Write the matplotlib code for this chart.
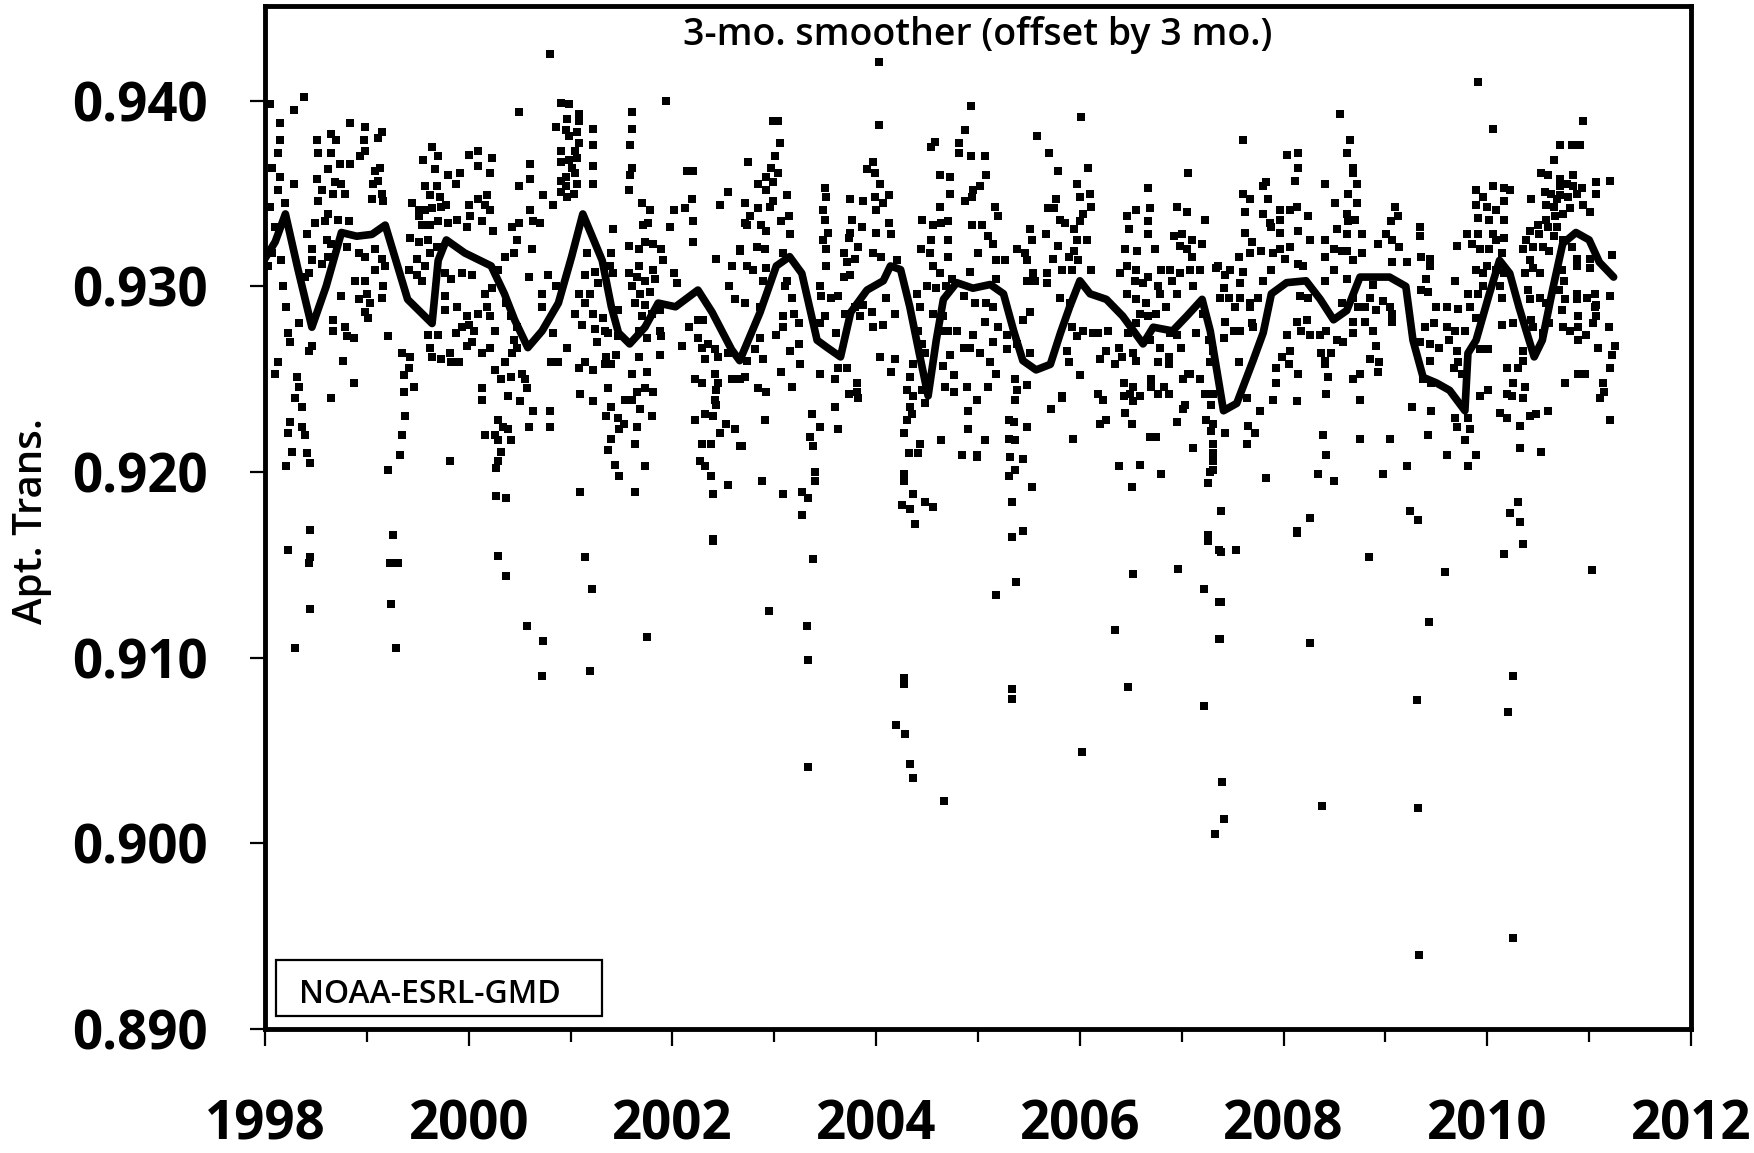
import matplotlib

matplotlib.use("Agg")
import matplotlib.pyplot as plt
from matplotlib.patches import Rectangle
from matplotlib.ticker import FormatStrFormatter, MultipleLocator

plt.rcParams["font.family"] = ["Open Sans", "DejaVu Sans"]

# daily apparent transmission readings (decimal year, value)
DAILY_1998_2002 = [
    (1998.05, 0.9398), (1998.15, 0.9388), (1998.15, 0.9379), (1998.13, 0.9372), (1998.07, 0.9364),
    (1998.15, 0.9359), (1998.20, 0.9345), (1998.13, 0.9352), (1998.05, 0.9343), (1998.10, 0.9332),
    (1998.07, 0.9318), (1998.16, 0.9314), (1998.03, 0.9311), (1998.18, 0.9300), (1998.21, 0.9289),
    (1998.23, 0.9275), (1998.25, 0.9270), (1998.13, 0.9259), (1998.10, 0.9253), (1998.33, 0.9280),
    (1998.31, 0.9251), (1998.33, 0.9246), (1998.29, 0.9240), (1998.36, 0.9235), (1998.25, 0.9227),
    (1998.36, 0.9224), (1998.23, 0.9221), (1998.39, 0.9220), (1998.26, 0.9211), (1998.41, 0.9210),
    (1998.21, 0.9203), (1998.44, 0.9205), (1998.43, 0.9265), (1998.46, 0.9268), (1998.38, 0.9402),
    (1998.28, 0.9395), (1998.28, 0.9355), (1998.41, 0.9328), (1998.46, 0.9320), (1998.43, 0.9307),
    (1998.39, 0.9305), (1998.49, 0.9334), (1998.51, 0.9379), (1998.52, 0.9372), (1998.65, 0.9372),
    (1998.51, 0.9358), (1998.52, 0.9346), (1998.65, 0.9382), (1998.70, 0.9379), (1998.83, 0.9388),
    (1998.98, 0.9386), (1999.15, 0.9383), (1999.11, 0.9380), (1998.97, 0.9379), (1998.98, 0.9373),
    (1998.93, 0.9370), (1998.83, 0.9366), (1998.74, 0.9366), (1998.62, 0.9363), (1998.69, 0.9356),
    (1998.75, 0.9355), (1998.79, 0.9350), (1998.67, 0.9350), (1998.56, 0.9352), (1998.62, 0.9339),
    (1998.59, 0.9335), (1998.72, 0.9336), (1998.82, 0.9335), (1998.61, 0.9325), (1998.65, 0.9323),
    (1998.80, 0.9321), (1998.62, 0.9316), (1998.56, 0.9312), (1998.46, 0.9314), (1998.92, 0.9318),
    (1998.98, 0.9316), (1999.08, 0.9320), (1999.15, 0.9315), (1999.08, 0.9309), (1999.18, 0.9311),
    (1998.88, 0.9303), (1998.98, 0.9303), (1999.00, 0.9296), (1998.92, 0.9293), (1999.03, 0.9291),
    (1998.98, 0.9286), (1999.01, 0.9283), (1999.16, 0.9300), (1999.15, 0.9294), (1998.75, 0.9295),
    (1998.67, 0.9282), (1998.67, 0.9276), (1998.79, 0.9278), (1998.80, 0.9273), (1998.87, 0.9272),
    (1998.77, 0.9260), (1999.21, 0.9273), (1999.06, 0.9355), (1999.05, 0.9347), (1999.15, 0.9350),
    (1999.16, 0.9346), (1999.08, 0.9362), (1999.13, 0.9364), (1999.11, 0.9357), (1999.34, 0.9264),
    (1999.41, 0.9256), (1999.36, 0.9252), (1999.42, 0.9262), (1999.46, 0.9246), (1999.36, 0.9243),
    (1999.37, 0.9230), (1999.34, 0.9220), (1999.33, 0.9209), (1999.21, 0.9201), (1998.65, 0.9240),
    (1998.87, 0.9248), (1999.64, 0.9375), (1999.70, 0.9370), (1999.55, 0.9368), (1999.67, 0.9363),
    (1999.80, 0.9360), (1999.91, 0.9361), (1999.87, 0.9355), (1999.57, 0.9354), (1999.69, 0.9354),
    (1999.62, 0.9349), (1999.72, 0.9348), (1999.44, 0.9345), (1999.51, 0.9341), (1999.57, 0.9341),
    (1999.64, 0.9342), (1999.73, 0.9343), (1999.78, 0.9344), (1999.51, 0.9338), (1999.54, 0.9333),
    (1999.62, 0.9333), (1999.70, 0.9335), (1999.80, 0.9334), (1999.88, 0.9336), (2000.00, 0.9371),
    (2000.09, 0.9373), (2000.09, 0.9365), (2000.23, 0.9369), (2000.21, 0.9361), (2000.00, 0.9344),
    (2000.01, 0.9338), (2000.09, 0.9347), (2000.18, 0.9349), (2000.16, 0.9344), (2000.21, 0.9341),
    (1999.98, 0.9332), (2000.13, 0.9335), (2000.24, 0.9330), (1999.42, 0.9326), (1999.51, 0.9324),
    (1999.60, 0.9325), (1999.62, 0.9318), (1999.69, 0.9321), (1999.49, 0.9315), (1999.57, 0.9311),
    (1999.41, 0.9309), (1999.49, 0.9306), (1999.54, 0.9303), (1999.77, 0.9307), (1999.83, 0.9304),
    (1999.93, 0.9307), (2000.03, 0.9306), (1999.77, 0.9295), (1999.88, 0.9289), (1999.98, 0.9284),
    (2000.09, 0.9285), (2000.18, 0.9289), (2000.21, 0.9284), (2000.00, 0.9279), (1999.93, 0.9278),
    (2000.05, 0.9276), (1999.87, 0.9275), (1999.77, 0.9287), (1999.60, 0.9274), (1999.70, 0.9274),
    (1999.62, 0.9267), (1999.64, 0.9262), (1999.73, 0.9261), (1999.82, 0.9264), (1999.83, 0.9259),
    (1999.90, 0.9259), (1999.98, 0.9268), (2000.03, 0.9270), (2000.13, 0.9264), (2000.21, 0.9267),
    (2000.26, 0.9276), (2000.16, 0.9296), (2000.23, 0.9299), (2000.29, 0.9309), (2000.36, 0.9316),
    (2000.44, 0.9318), (2000.47, 0.9325), (2000.42, 0.9332), (2000.49, 0.9334), (2000.60, 0.9341),
    (2000.63, 0.9335), (2000.70, 0.9334), (2000.60, 0.9358), (2000.60, 0.9366), (2000.49, 0.9354),
    (2000.49, 0.9394), (2000.80, 0.9425), (2000.73, 0.9349), (2000.83, 0.9344), (2000.62, 0.9320),
    (2000.59, 0.9305), (2000.78, 0.9306), (2000.72, 0.9296), (2000.72, 0.9289), (2000.37, 0.9291),
    (2000.41, 0.9284), (2000.47, 0.9278), (2000.44, 0.9271), (2000.47, 0.9267), (2000.42, 0.9264),
    (2000.36, 0.9259), (2000.26, 0.9255), (2000.32, 0.9250), (2000.41, 0.9251), (2000.13, 0.9245),
    (2000.13, 0.9239), (2000.39, 0.9241), (2000.50, 0.9238), (2000.29, 0.9228), (2000.34, 0.9224),
    (2000.39, 0.9223), (2000.16, 0.9220), (2000.26, 0.9220), (2000.29, 0.9217), (2000.41, 0.9217),
    (2000.32, 0.9211), (2000.29, 0.9206), (2000.27, 0.9202), (2000.27, 0.9187), (2000.37, 0.9186),
    (1999.82, 0.9206), (2000.52, 0.9253), (2000.55, 0.9250), (2000.57, 0.9245), (2000.63, 0.9233),
    (2000.59, 0.9224), (2000.80, 0.9233), (2000.80, 0.9224), (2000.81, 0.9259), (2000.88, 0.9259),
    (2000.96, 0.9267), (2000.83, 0.9275), (2000.86, 0.9300), (2000.91, 0.9399), (2000.98, 0.9398),
    (2001.08, 0.9393), (2000.96, 0.9390), (2001.08, 0.9389), (2000.86, 0.9386), (2000.95, 0.9384),
    (2001.06, 0.9383), (2000.98, 0.9381), (2001.22, 0.9385), (2001.22, 0.9376), (2001.08, 0.9377),
    (2000.91, 0.9373), (2001.04, 0.9373), (2000.91, 0.9367), (2000.98, 0.9368), (2001.06, 0.9369),
    (2001.01, 0.9364), (2001.22, 0.9365), (2000.95, 0.9359), (2001.04, 0.9361), (2000.91, 0.9357),
    (2001.06, 0.9355), (2000.95, 0.9354), (2001.22, 0.9355), (2000.91, 0.9351), (2001.03, 0.9350),
    (2000.96, 0.9348), (2001.16, 0.9318), (2001.24, 0.9308), (2001.14, 0.9306), (2001.27, 0.9302),
    (2001.08, 0.9296), (2001.19, 0.9296), (2001.14, 0.9291), (2001.22, 0.9285), (2001.04, 0.9285),
    (2001.11, 0.9279), (2001.24, 0.9277), (2001.32, 0.9283), (2001.34, 0.9276), (2001.26, 0.9270),
    (2001.40, 0.9318), (2001.39, 0.9311), (2001.42, 0.9307), (2001.42, 0.9331), (2001.47, 0.9287),
    (2001.37, 0.9275), (2001.47, 0.9273), (2001.08, 0.9256), (2001.14, 0.9259), (2001.22, 0.9255),
    (2001.34, 0.9258), (2001.40, 0.9258), (2001.45, 0.9263), (2001.35, 0.9262), (2001.09, 0.9242),
    (2001.22, 0.9238), (2001.37, 0.9245), (2001.40, 0.9235), (2001.35, 0.9230), (2001.47, 0.9229),
    (2001.53, 0.9239), (2001.52, 0.9226), (2001.48, 0.9223), (2001.37, 0.9212), (2001.44, 0.9204),
    (2001.48, 0.9198), (2001.63, 0.9189), (2001.09, 0.9189), (2001.40, 0.9218), (2001.63, 0.9215),
    (2001.65, 0.9224), (2001.73, 0.9203), (2001.60, 0.9239), (2001.68, 0.9234), (2001.80, 0.9230),
    (2001.81, 0.9243), (2001.73, 0.9245), (2001.65, 0.9243), (2001.60, 0.9253), (2001.75, 0.9254),
    (2001.67, 0.9262), (2001.88, 0.9263), (2001.60, 0.9394), (2001.60, 0.9385), (2001.58, 0.9376),
    (2001.60, 0.9364), (2001.58, 0.9360), (2001.57, 0.9352), (2001.94, 0.9400), (2002.14, 0.9362),
    (2002.20, 0.9362), (2001.70, 0.9345), (2001.78, 0.9341), (2001.71, 0.9333), (2001.76, 0.9334),
    (2001.57, 0.9322), (2001.67, 0.9320), (2001.73, 0.9324), (2001.81, 0.9323), (2001.89, 0.9320),
    (2001.91, 0.9314), (2001.81, 0.9309), (2001.67, 0.9311), (2001.57, 0.9307), (2001.65, 0.9305),
    (2001.73, 0.9303), (2001.83, 0.9304), (2001.60, 0.9300), (2001.68, 0.9296), (2001.78, 0.9297),
    (2001.63, 0.9291), (2001.73, 0.9290), (2001.88, 0.9287), (2001.80, 0.9285), (2001.70, 0.9284),
    (2001.67, 0.9276), (2001.75, 0.9272), (2001.88, 0.9276), (2001.89, 0.9273), (2002.02, 0.9341),
    (2001.98, 0.9332), (2002.12, 0.9342), (2002.19, 0.9347), (2002.20, 0.9335), (2002.20, 0.9324),
    (2002.02, 0.9307), (2002.04, 0.9302), (2002.16, 0.9278), (2002.09, 0.9268), (2002.25, 0.9272),
    (2002.29, 0.9267), (2002.30, 0.9282), (2002.25, 0.9282), (2002.35, 0.9269), (2002.42, 0.9266),
    (2002.45, 0.9262), (2002.32, 0.9261), (2002.55, 0.9264), (2002.22, 0.9250), (2002.29, 0.9248),
    (2002.42, 0.9253), (2002.45, 0.9248), (2002.58, 0.9250), (2002.66, 0.9250), (2002.43, 0.9244),
    (2002.42, 0.9239), (2002.43, 0.9236), (2002.22, 0.9228), (2002.32, 0.9231), (2002.40, 0.9230),
    (2002.53, 0.9226), (2002.47, 0.9221), (2002.61, 0.9223), (2002.68, 0.9214), (2002.38, 0.9215),
    (2002.29, 0.9215), (2002.27, 0.9206), (2002.32, 0.9203), (2002.38, 0.9198), (2002.55, 0.9193),
    (2002.40, 0.9188), (2002.40, 0.9164), (2002.43, 0.9315), (2002.58, 0.9311), (2002.56, 0.9300),
    (2002.61, 0.9293), (2002.66, 0.9319), (2002.55, 0.9351), (2002.47, 0.9344), (2002.71, 0.9334),
]

DAILY_2002_2007 = [
    (2004.03, 0.9421), (2004.93, 0.9397), (2006.01, 0.9391), (2002.99, 0.9389), (2003.04, 0.9389),
    (2003.06, 0.9377), (2004.03, 0.9387), (2004.87, 0.9384), (2004.81, 0.9377), (2004.58, 0.9378),
    (2004.54, 0.9375), (2004.81, 0.9372), (2004.93, 0.9370), (2005.07, 0.9370), (2005.58, 0.9381),
    (2005.70, 0.9372), (2002.74, 0.9367), (2003.01, 0.9370), (2002.97, 0.9364), (2003.04, 0.9361),
    (2002.92, 0.9359), (2002.99, 0.9356), (2002.84, 0.9355), (2002.92, 0.9352), (2003.12, 0.9349),
    (2002.99, 0.9346), (2002.71, 0.9345), (2002.84, 0.9342), (2002.96, 0.9343), (2003.14, 0.9338),
    (2002.76, 0.9338), (2002.73, 0.9333), (2002.87, 0.9333), (2003.07, 0.9335), (2002.92, 0.9330),
    (2003.15, 0.9328), (2002.66, 0.9320), (2002.83, 0.9321), (2002.91, 0.9320), (2003.09, 0.9318),
    (2002.73, 0.9311), (2002.79, 0.9309), (2002.92, 0.9310), (2002.89, 0.9303), (2003.12, 0.9303),
    (2003.17, 0.9294), (2003.10, 0.9300), (2002.71, 0.9291), (2002.86, 0.9289), (2003.09, 0.9284),
    (2003.19, 0.9285), (2003.24, 0.9280), (2003.02, 0.9274), (2003.09, 0.9278), (2002.86, 0.9272),
    (2003.24, 0.9269), (2003.15, 0.9265), (2002.81, 0.9266), (2002.89, 0.9261), (2002.73, 0.9260),
    (2003.25, 0.9258), (2003.07, 0.9254), (2002.71, 0.9251), (2003.17, 0.9246), (2002.84, 0.9245),
    (2002.92, 0.9243), (2002.91, 0.9228), (2003.37, 0.9231), (2003.45, 0.9224), (2003.35, 0.9219),
    (2003.38, 0.9214), (2003.40, 0.9200), (2003.40, 0.9195), (2003.27, 0.9189), (2003.33, 0.9186),
    (2003.09, 0.9188), (2002.88, 0.9195), (2003.27, 0.9177), (2002.66, 0.9214), (2003.50, 0.9353),
    (2003.51, 0.9348), (2003.48, 0.9341), (2003.50, 0.9336), (2003.53, 0.9329), (2003.48, 0.9325),
    (2003.51, 0.9320), (2003.74, 0.9347), (2003.76, 0.9336), (2003.74, 0.9329), (2003.91, 0.9363),
    (2003.99, 0.9361), (2003.97, 0.9367), (2004.04, 0.9355), (2003.99, 0.9348), (2004.07, 0.9345),
    (2004.13, 0.9349), (2003.87, 0.9346), (2004.00, 0.9341), (2004.13, 0.9334), (2003.86, 0.9332),
    (2004.00, 0.9329), (2004.15, 0.9328), (2003.73, 0.9326), (2003.82, 0.9321), (2003.68, 0.9318),
    (2003.71, 0.9313), (2003.79, 0.9315), (2003.97, 0.9318), (2004.05, 0.9316), (2004.20, 0.9314),
    (2003.51, 0.9311), (2003.45, 0.9300), (2003.46, 0.9295), (2003.56, 0.9294), (2003.63, 0.9295),
    (2003.68, 0.9305), (2003.74, 0.9306), (2003.69, 0.9285), (2003.79, 0.9289), (2003.87, 0.9290),
    (2003.96, 0.9286), (2003.84, 0.9284), (2003.97, 0.9278), (2004.07, 0.9279), (2004.10, 0.9294),
    (2004.18, 0.9285), (2003.50, 0.9284), (2003.45, 0.9280), (2003.61, 0.9275), (2004.04, 0.9262),
    (2004.18, 0.9261), (2004.15, 0.9254), (2003.63, 0.9256), (2003.71, 0.9256), (2003.45, 0.9253),
    (2003.60, 0.9250), (2003.81, 0.9248), (2003.81, 0.9243), (2003.73, 0.9242), (2003.82, 0.9240),
    (2003.60, 0.9235), (2003.63, 0.9223), (2004.33, 0.9251), (2004.30, 0.9244), (2004.36, 0.9241),
    (2004.33, 0.9235), (2004.35, 0.9231), (2004.30, 0.9228), (2004.27, 0.9221), (2004.43, 0.9215),
    (2004.32, 0.9210), (2004.41, 0.9210), (2004.27, 0.9199), (2004.27, 0.9195), (2004.36, 0.9188),
    (2004.25, 0.9182), (2004.33, 0.9180), (2004.48, 0.9184), (2004.56, 0.9181), (2004.38, 0.9172),
    (2004.45, 0.9244), (2004.48, 0.9237), (2004.36, 0.9258), (2004.48, 0.9264), (2004.45, 0.9269),
    (2004.41, 0.9276), (2004.43, 0.9289), (2004.40, 0.9296), (2004.44, 0.9320), (2004.45, 0.9336),
    (2004.56, 0.9333), (2004.54, 0.9325), (2004.53, 0.9318), (2004.56, 0.9311), (2004.63, 0.9343),
    (2004.64, 0.9334), (2004.71, 0.9335), (2004.71, 0.9325), (2004.63, 0.9360), (2004.72, 0.9359),
    (2004.72, 0.9350), (2004.71, 0.9316), (2004.63, 0.9307), (2004.74, 0.9304), (2004.69, 0.9300),
    (2004.59, 0.9299), (2004.50, 0.9300), (2004.56, 0.9285), (2004.66, 0.9284), (2004.71, 0.9276),
    (2004.63, 0.9276), (2004.72, 0.9263), (2004.66, 0.9257), (2004.76, 0.9252), (2004.68, 0.9246),
    (2004.76, 0.9243), (2004.86, 0.9267), (2004.95, 0.9274), (2004.79, 0.9276), (2004.92, 0.9267),
    (2005.02, 0.9264), (2005.12, 0.9259), (2004.89, 0.9246), (2004.99, 0.9239), (2005.10, 0.9246),
    (2005.18, 0.9253), (2004.90, 0.9233), (2004.90, 0.9223), (2005.07, 0.9217), (2004.64, 0.9217),
    (2004.84, 0.9209), (2004.99, 0.9209), (2004.99, 0.9208), (2004.95, 0.9352), (2005.02, 0.9354),
    (2004.94, 0.9348), (2005.08, 0.9360), (2004.87, 0.9346), (2005.17, 0.9343), (2005.20, 0.9338),
    (2004.94, 0.9333), (2005.04, 0.9333), (2005.10, 0.9327), (2005.15, 0.9323), (2005.00, 0.9318),
    (2004.92, 0.9308), (2005.18, 0.9314), (2005.26, 0.9314), (2005.18, 0.9304), (2004.86, 0.9295),
    (2004.97, 0.9291), (2005.08, 0.9291), (2005.15, 0.9289), (2005.07, 0.9281), (2005.20, 0.9278),
    (2005.15, 0.9270), (2005.28, 0.9274), (2005.28, 0.9266), (2005.38, 0.9269), (2005.36, 0.9250),
    (2005.38, 0.9244), (2005.36, 0.9239), (2005.48, 0.9247), (2005.51, 0.9264), (2005.30, 0.9228),
    (2005.35, 0.9227), (2005.30, 0.9218), (2005.36, 0.9217), (2005.31, 0.9208), (2005.44, 0.9207),
    (2005.36, 0.9201), (2005.30, 0.9198), (2005.53, 0.9192), (2005.33, 0.9184), (2005.48, 0.9224),
    (2005.72, 0.9234), (2005.82, 0.9240), (2005.93, 0.9218), (2005.44, 0.9282), (2005.51, 0.9286),
    (2005.38, 0.9320), (2005.46, 0.9318), (2005.53, 0.9325), (2005.51, 0.9331), (2005.48, 0.9314),
    (2005.54, 0.9307), (2005.48, 0.9303), (2005.56, 0.9303), (2005.67, 0.9328), (2005.69, 0.9342),
    (2005.77, 0.9347), (2005.80, 0.9336), (2005.75, 0.9342), (2005.85, 0.9334), (2005.79, 0.9322),
    (2005.74, 0.9315), (2005.89, 0.9316), (2005.82, 0.9309), (2005.68, 0.9307), (2005.68, 0.9302),
    (2005.79, 0.9362), (2005.97, 0.9355), (2006.00, 0.9348), (2006.10, 0.9350), (2006.08, 0.9364),
    (2006.11, 0.9343), (2006.03, 0.9339), (2006.00, 0.9335), (2005.94, 0.9331), (2006.07, 0.9325),
    (2005.97, 0.9325), (2005.94, 0.9319), (2005.98, 0.9314), (2005.92, 0.9309), (2006.11, 0.9309),
    (2005.80, 0.9294), (2005.90, 0.9291), (2005.92, 0.9278), (2005.97, 0.9273), (2006.03, 0.9276),
    (2006.13, 0.9275), (2006.18, 0.9275), (2006.28, 0.9276), (2005.87, 0.9265), (2005.89, 0.9259),
    (2006.00, 0.9252), (2005.82, 0.9241), (2006.26, 0.9265), (2006.20, 0.9261), (2006.18, 0.9242),
    (2006.23, 0.9239), (2006.20, 0.9226), (2006.26, 0.9228), (2006.38, 0.9203), (2006.59, 0.9204),
    (2006.51, 0.9192), (2006.43, 0.9248), (2006.52, 0.9246), (2006.59, 0.9241), (2006.49, 0.9242),
    (2006.43, 0.9241), (2006.52, 0.9238), (2006.44, 0.9232), (2006.51, 0.9226), (2006.70, 0.9250),
    (2006.70, 0.9246), (2006.77, 0.9242), (2006.87, 0.9242), (2006.83, 0.9246), (2006.69, 0.9219),
    (2006.75, 0.9219), (2006.80, 0.9199), (2006.95, 0.9227), (2007.01, 0.9234), (2007.03, 0.9236),
    (2007.11, 0.9213), (2007.24, 0.9228), (2007.23, 0.9242), (2007.31, 0.9242), (2007.29, 0.9236),
    (2007.29, 0.9222), (2007.31, 0.9215), (2007.31, 0.9206), (2007.28, 0.9200), (2007.26, 0.9194),
    (2007.06, 0.9253), (2007.18, 0.9250), (2007.01, 0.9250), (2006.99, 0.9267), (2006.95, 0.9274),
    (2006.88, 0.9275), (2006.87, 0.9258), (2006.77, 0.9259), (2006.87, 0.9262), (2006.79, 0.9267),
    (2006.69, 0.9271), (2006.52, 0.9264), (2006.55, 0.9260), (2006.38, 0.9267), (2006.41, 0.9262),
    (2006.34, 0.9258), (2006.47, 0.9275), (2006.55, 0.9280), (2006.59, 0.9285), (2006.67, 0.9284),
    (2006.75, 0.9285), (2006.85, 0.9289), (2006.95, 0.9296), (2006.79, 0.9296), (2006.65, 0.9291),
    (2006.55, 0.9293), (2006.46, 0.9296), (2006.77, 0.9300), (2006.39, 0.9307), (2006.54, 0.9303),
    (2006.62, 0.9302), (2006.67, 0.9305), (2006.90, 0.9303), (2006.98, 0.9307), (2007.08, 0.9309),
    (2007.18, 0.9309), (2007.11, 0.9300), (2006.88, 0.9309), (2006.55, 0.9309), (2006.46, 0.9311),
    (2006.80, 0.9309), (2006.44, 0.9320), (2006.56, 0.9319), (2006.74, 0.9320), (2006.67, 0.9328),
    (2006.48, 0.9331), (2006.67, 0.9335), (2006.46, 0.9338), (2006.55, 0.9341), (2006.69, 0.9342),
    (2006.67, 0.9353), (2006.95, 0.9343), (2007.05, 0.9340), (2007.06, 0.9361), (2006.92, 0.9327),
    (2007.00, 0.9328), (2006.98, 0.9322), (2007.05, 0.9320), (2007.10, 0.9325), (2007.20, 0.9323),
    (2007.10, 0.9316), (2007.23, 0.9336), (2007.34, 0.9310), (2007.21, 0.9285), (2007.14, 0.9275),
    (2007.27, 0.9271), (2007.31, 0.9265), (2007.28, 0.9259), (2007.08, 0.9253),
]

DAILY_2007_2011 = [
    (2009.91, 0.9410), (2008.55, 0.9393), (2010.06, 0.9385), (2010.94, 0.9389), (2007.60, 0.9379),
    (2008.65, 0.9379), (2008.03, 0.9371), (2008.14, 0.9372), (2008.62, 0.9372), (2008.14, 0.9364),
    (2008.11, 0.9357), (2008.68, 0.9364), (2008.68, 0.9361), (2008.41, 0.9355), (2008.72, 0.9355),
    (2008.63, 0.9350), (2007.80, 0.9354), (2007.83, 0.9356), (2007.60, 0.9350), (2007.67, 0.9347),
    (2007.85, 0.9347), (2007.62, 0.9340), (2007.80, 0.9339), (2007.87, 0.9334), (2007.96, 0.9341),
    (2008.06, 0.9341), (2008.13, 0.9343), (2008.24, 0.9338), (2007.96, 0.9336), (2008.50, 0.9345),
    (2008.72, 0.9345), (2008.62, 0.9339), (2008.70, 0.9336), (2008.63, 0.9335), (2009.09, 0.9343),
    (2009.12, 0.9338), (2009.05, 0.9335), (2009.34, 0.9332), (2009.34, 0.9327), (2007.62, 0.9329),
    (2007.69, 0.9324), (2007.88, 0.9332), (2007.96, 0.9329), (2008.14, 0.9330), (2008.26, 0.9325),
    (2008.41, 0.9325), (2008.52, 0.9331), (2008.62, 0.9328), (2008.77, 0.9328), (2008.93, 0.9323),
    (2009.01, 0.9328), (2009.06, 0.9325), (2009.13, 0.9321), (2008.49, 0.9320), (2008.57, 0.9319),
    (2008.62, 0.9319), (2008.77, 0.9318), (2007.56, 0.9316), (2007.67, 0.9318), (2007.78, 0.9319),
    (2007.90, 0.9318), (2007.96, 0.9320), (2008.06, 0.9321), (2008.01, 0.9315), (2008.14, 0.9312),
    (2008.19, 0.9311), (2008.41, 0.9316), (2008.68, 0.9314), (2009.06, 0.9313), (2009.21, 0.9313),
    (2009.35, 0.9316), (2009.44, 0.9315), (2009.44, 0.9311), (2007.36, 0.9311), (2007.47, 0.9309),
    (2007.60, 0.9308), (2007.88, 0.9309), (2007.80, 0.9303), (2007.57, 0.9302), (2007.42, 0.9306),
    (2008.49, 0.9309), (2008.41, 0.9303), (2008.62, 0.9304), (2008.88, 0.9301), (2009.40, 0.9304),
    (2009.68, 0.9303), (2009.42, 0.9297), (2009.35, 0.9298), (2007.41, 0.9299), (2007.38, 0.9294),
    (2007.46, 0.9294), (2007.57, 0.9294), (2007.75, 0.9294), (2007.67, 0.9291), (2007.52, 0.9289),
    (2007.67, 0.9289), (2008.16, 0.9295), (2008.24, 0.9294), (2008.57, 0.9291), (2008.68, 0.9294),
    (2008.73, 0.9289), (2008.85, 0.9294), (2008.91, 0.9287), (2008.98, 0.9292), (2009.04, 0.9289),
    (2009.06, 0.9285), (2009.06, 0.9281), (2008.80, 0.9289), (2007.42, 0.9281), (2007.51, 0.9276),
    (2007.57, 0.9276), (2007.70, 0.9278), (2007.69, 0.9280), (2007.41, 0.9272), (2008.03, 0.9274),
    (2008.13, 0.9281), (2008.23, 0.9282), (2008.17, 0.9276), (2008.26, 0.9274), (2008.36, 0.9274),
    (2008.42, 0.9276), (2008.52, 0.9271), (2008.58, 0.9270), (2008.68, 0.9281), (2008.68, 0.9275),
    (2008.80, 0.9281), (2008.88, 0.9276), (2008.91, 0.9268), (2008.06, 0.9265), (2007.98, 0.9262),
    (2008.37, 0.9264), (2008.41, 0.9260), (2008.47, 0.9264), (2008.41, 0.9258), (2008.85, 0.9261),
    (2008.94, 0.9259), (2007.56, 0.9259), (2007.93, 0.9256), (2008.05, 0.9258), (2007.93, 0.9248),
    (2008.14, 0.9253), (2008.44, 0.9251), (2008.68, 0.9250), (2008.75, 0.9253), (2008.93, 0.9254),
    (2007.90, 0.9239), (2008.13, 0.9238), (2008.42, 0.9242), (2008.75, 0.9239), (2007.64, 0.9240),
    (2007.77, 0.9233), (2007.65, 0.9225), (2007.72, 0.9221), (2007.64, 0.9215), (2007.42, 0.9221),
    (2007.31, 0.9226), (2007.31, 0.9215), (2007.31, 0.9210), (2007.31, 0.9201), (2007.39, 0.9179),
    (2007.83, 0.9197), (2008.13, 0.9168), (2008.26, 0.9175), (2008.39, 0.9220), (2008.42, 0.9209),
    (2008.34, 0.9199), (2008.49, 0.9195), (2008.75, 0.9218), (2009.04, 0.9218), (2008.98, 0.9199),
    (2009.21, 0.9203), (2009.24, 0.9179), (2009.32, 0.9174), (2009.26, 0.9235), (2009.45, 0.9233),
    (2009.42, 0.9220), (2009.60, 0.9209), (2009.81, 0.9203), (2009.89, 0.9209), (2009.78, 0.9217),
    (2009.83, 0.9223), (2009.70, 0.9224), (2009.68, 0.9229), (2009.81, 0.9229), (2009.93, 0.9241),
    (2010.01, 0.9244), (2010.12, 0.9232), (2010.19, 0.9229), (2010.32, 0.9225), (2010.42, 0.9230),
    (2010.48, 0.9231), (2010.60, 0.9233), (2010.32, 0.9213), (2010.53, 0.9211), (2010.22, 0.9178),
    (2010.30, 0.9184), (2010.32, 0.9173), (2010.37, 0.9246), (2010.35, 0.9240), (2010.25, 0.9248),
    (2010.19, 0.9242), (2010.24, 0.9241), (2010.19, 0.9256), (2010.35, 0.9260), (2009.37, 0.9250),
    (2009.45, 0.9248), (2009.53, 0.9267), (2009.62, 0.9271), (2009.68, 0.9276), (2009.78, 0.9276),
    (2009.60, 0.9278), (2009.70, 0.9265), (2009.71, 0.9259), (2009.67, 0.9256), (2009.75, 0.9253),
    (2009.44, 0.9260), (2009.44, 0.9269), (2009.39, 0.9278), (2009.48, 0.9280), (2009.34, 0.9270),
    (2009.50, 0.9289), (2009.60, 0.9289), (2009.71, 0.9288), (2009.83, 0.9289), (2009.81, 0.9296),
    (2009.91, 0.9296), (2009.96, 0.9300), (2009.89, 0.9283), (2009.93, 0.9266), (2010.01, 0.9266),
    (2009.96, 0.9307), (2009.89, 0.9309), (2010.00, 0.9311), (2010.09, 0.9309), (2010.12, 0.9300),
    (2010.14, 0.9294), (2009.93, 0.9320), (2010.02, 0.9320), (2010.09, 0.9325), (2010.16, 0.9326),
    (2009.80, 0.9328), (2009.85, 0.9323), (2009.70, 0.9322), (2009.91, 0.9328), (2010.06, 0.9328),
    (2009.89, 0.9344), (2010.00, 0.9343), (2010.09, 0.9341), (2010.16, 0.9336), (2010.02, 0.9336),
    (2009.91, 0.9337), (2009.96, 0.9348), (2009.89, 0.9352), (2010.06, 0.9354), (2010.16, 0.9353),
    (2010.16, 0.9346), (2010.22, 0.9352), (2010.43, 0.9347), (2010.14, 0.9318), (2010.16, 0.9307),
    (2010.14, 0.9279), (2010.25, 0.9280), (2010.30, 0.9256), (2010.35, 0.9265), (2010.43, 0.9282),
    (2010.45, 0.9278), (2010.55, 0.9275), (2010.61, 0.9280), (2010.58, 0.9291), (2010.52, 0.9294),
    (2010.40, 0.9298), (2010.42, 0.9293), (2010.37, 0.9307), (2010.45, 0.9310), (2010.52, 0.9307),
    (2010.42, 0.9314), (2010.35, 0.9320), (2010.45, 0.9321), (2010.55, 0.9321), (2010.61, 0.9319),
    (2010.38, 0.9325), (2010.51, 0.9328), (2010.65, 0.9327), (2010.42, 0.9330), (2010.50, 0.9333),
    (2010.60, 0.9332), (2010.68, 0.9332), (2010.58, 0.9336), (2010.66, 0.9338), (2010.74, 0.9339),
    (2010.81, 0.9342), (2010.94, 0.9344), (2011.01, 0.9340), (2010.58, 0.9344), (2010.65, 0.9343),
    (2010.68, 0.9347), (2010.57, 0.9351), (2010.63, 0.9350), (2010.71, 0.9349), (2010.79, 0.9348),
    (2010.88, 0.9350), (2010.71, 0.9354), (2010.78, 0.9355), (2010.84, 0.9354), (2010.93, 0.9353),
    (2010.71, 0.9358), (2010.84, 0.9360), (2010.53, 0.9361), (2010.60, 0.9360), (2010.65, 0.9368),
    (2010.71, 0.9376), (2010.83, 0.9376), (2010.91, 0.9376), (2011.07, 0.9356), (2011.07, 0.9350),
    (2011.20, 0.9357), (2010.74, 0.9325), (2010.83, 0.9321), (2010.88, 0.9315), (2010.88, 0.9311),
    (2011.01, 0.9315), (2011.01, 0.9310), (2011.22, 0.9317), (2010.73, 0.9309), (2010.75, 0.9303),
    (2010.70, 0.9298), (2010.76, 0.9293), (2010.88, 0.9296), (2010.88, 0.9293), (2010.98, 0.9294),
    (2011.06, 0.9296), (2011.07, 0.9290), (2011.06, 0.9289), (2011.20, 0.9295), (2010.73, 0.9287),
    (2010.89, 0.9284), (2011.07, 0.9284), (2010.74, 0.9278), (2010.81, 0.9276), (2010.89, 0.9278),
    (2010.97, 0.9274), (2011.04, 0.9280), (2011.19, 0.9278), (2010.89, 0.9271), (2011.09, 0.9267),
    (2011.25, 0.9268), (2011.22, 0.9263), (2011.20, 0.9256), (2010.89, 0.9253), (2010.96, 0.9253),
    (2010.76, 0.9248), (2011.14, 0.9248), (2011.15, 0.9243), (2011.11, 0.9240), (2011.20, 0.9228),
]

# sparse low readings (hazy days)
DAILY_LOW = [
    (1998.44, 0.9169), (1999.26, 0.9166), (1998.23, 0.9158), (1998.44, 0.9154), (1998.43, 0.9151),
    (1999.23, 0.9151), (1999.31, 0.9151), (1998.44, 0.9126), (1999.24, 0.9129), (1998.29, 0.9105),
    (1999.29, 0.9105), (2000.29, 0.9155), (2000.37, 0.9144), (2001.14, 0.9154), (2001.21, 0.9137),
    (2000.57, 0.9117), (2000.73, 0.9109), (2000.72, 0.9090), (2001.19, 0.9093), (2001.75, 0.9111),
    (2002.40, 0.9163), (2005.33, 0.9165), (2005.44, 0.9168), (2007.26, 0.9166), (2007.26, 0.9163),
    (2003.38, 0.9153), (2002.95, 0.9125), (2003.32, 0.9117), (2003.33, 0.9099), (2003.33, 0.9041),
    (2004.27, 0.9089), (2004.27, 0.9086), (2004.19, 0.9064), (2004.28, 0.9059), (2004.33, 0.9043),
    (2004.36, 0.9035), (2004.67, 0.9023), (2005.37, 0.9141), (2005.18, 0.9134), (2005.33, 0.9083),
    (2005.33, 0.9078), (2006.52, 0.9145), (2006.96, 0.9148), (2007.22, 0.9137), (2006.34, 0.9115),
    (2006.47, 0.9084), (2007.22, 0.9074), (2006.02, 0.9049), (2007.33, 0.9005), (2007.37, 0.9158),
    (2007.37, 0.9130), (2007.37, 0.9110), (2008.13, 0.9167), (2007.39, 0.9157), (2007.53, 0.9158),
    (2008.84, 0.9154), (2009.58, 0.9146), (2010.16, 0.9156), (2010.35, 0.9161), (2011.03, 0.9147),
    (2007.39, 0.9130), (2007.38, 0.9110), (2008.26, 0.9108), (2009.43, 0.9119), (2010.25, 0.9090),
    (2009.31, 0.9077), (2010.20, 0.9071), (2007.40, 0.9033), (2008.38, 0.9020), (2009.32, 0.9019),
    (2007.41, 0.9013), (2010.25, 0.8949), (2009.33, 0.8940),
]

# 3-month smoother, shifted by 3 months
SMOOTH_X = [
    1998.00, 1998.10, 1998.20, 1998.32, 1998.46, 1998.60, 1998.75, 1998.90, 1999.05, 1999.18,
    1999.40, 1999.64, 1999.70, 1999.78, 1999.96, 2000.22, 2000.35, 2000.45, 2000.58, 2000.72,
    2000.88, 2001.01, 2001.12, 2001.31, 2001.40, 2001.47, 2001.58, 2001.73, 2001.86, 2002.03,
    2002.25, 2002.39, 2002.58, 2002.66, 2002.86, 2003.02, 2003.15, 2003.27, 2003.42, 2003.52,
    2003.65, 2003.75, 2003.91, 2004.07, 2004.14, 2004.24, 2004.33, 2004.43, 2004.51, 2004.59,
    2004.66, 2004.79, 2004.95, 2005.12, 2005.25, 2005.35, 2005.44, 2005.57, 2005.71, 2005.81,
    2005.90, 2006.00, 2006.10, 2006.26, 2006.42, 2006.54, 2006.62, 2006.72, 2006.91, 2007.05,
    2007.20, 2007.28, 2007.41, 2007.54, 2007.70, 2007.80, 2007.88, 2008.03, 2008.22, 2008.36,
    2008.49, 2008.62, 2008.75, 2008.91, 2009.04, 2009.20, 2009.27, 2009.37, 2009.50, 2009.63,
    2009.78, 2009.81, 2009.89, 2010.02, 2010.12, 2010.22, 2010.31, 2010.46, 2010.54, 2010.64,
    2010.74, 2010.87, 2011.00, 2011.10, 2011.24,
]
SMOOTH_Y = [
    0.9315, 0.9324, 0.9339, 0.9310, 0.9278, 0.9300, 0.9329, 0.9327, 0.9328, 0.9333,
    0.9293, 0.9280, 0.9314, 0.9325, 0.9318, 0.9311, 0.9296, 0.9282, 0.9267, 0.9276,
    0.9291, 0.9316, 0.9339, 0.9314, 0.9289, 0.9275, 0.9269, 0.9278, 0.9291, 0.9289,
    0.9298, 0.9286, 0.9266, 0.9260, 0.9286, 0.9311, 0.9316, 0.9307, 0.9271, 0.9267,
    0.9262, 0.9286, 0.9298, 0.9303, 0.9311, 0.9309, 0.9289, 0.9262, 0.9241, 0.9271,
    0.9293, 0.9302, 0.9299, 0.9301, 0.9296, 0.9276, 0.9260, 0.9255, 0.9258, 0.9275,
    0.9289, 0.9303, 0.9296, 0.9293, 0.9284, 0.9275, 0.9269, 0.9278, 0.9276, 0.9284,
    0.9293, 0.9276, 0.9233, 0.9237, 0.9260, 0.9275, 0.9296, 0.9302, 0.9303, 0.9293,
    0.9282, 0.9287, 0.9305, 0.9305, 0.9305, 0.9300, 0.9271, 0.9251, 0.9248, 0.9244,
    0.9233, 0.9264, 0.9271, 0.9296, 0.9314, 0.9307, 0.9289, 0.9262, 0.9271, 0.9298,
    0.9323, 0.9329, 0.9325, 0.9313, 0.9305,
]

Y_TICKS = [0.890, 0.900, 0.910, 0.920, 0.930, 0.940]
X_TICKS = list(range(1998, 2013, 2))


def main():
    fig = plt.figure(figsize=(17.54, 11.53), dpi=100)
    ax = fig.add_axes([0.1511, 0.1075, 0.8130, 0.8873])

    for group in (DAILY_1998_2002, DAILY_2002_2007, DAILY_2007_2011, DAILY_LOW):
        xs, ys = zip(*group)
        ax.plot(xs, ys, linestyle="none", marker="s", markersize=5.2,
                markeredgewidth=0, color="black", zorder=2)

    ax.plot(SMOOTH_X, SMOOTH_Y, color="black", linewidth=5.5,
            solid_joinstyle="round", solid_capstyle="round", zorder=3)

    ax.set_xlim(1998, 2012)
    ax.set_ylim(0.890, 0.9451)
    ax.set_xticks(X_TICKS)
    ax.xaxis.set_minor_locator(MultipleLocator(1))
    ax.set_yticks(Y_TICKS)
    ax.yaxis.set_major_formatter(FormatStrFormatter("%.3f"))

    for spine in ax.spines.values():
        spine.set_linewidth(3.5)
    ax.tick_params(axis="x", which="major", direction="out", length=12, width=1.6, pad=38)
    ax.tick_params(axis="x", which="minor", direction="out", length=9.5, width=1.6)
    ax.tick_params(axis="y", which="major", direction="out", length=11, width=1.6, pad=30)
    for lab in ax.get_xticklabels() + ax.get_yticklabels():
        lab.set_fontsize(38)
        lab.set_fontweight("bold")

    fig.text(0.0183, 0.548, "Apt. Trans.", rotation=90, ha="center", va="center",
             fontsize=29, fontweight="semibold")

    ax.text(0.5, 0.972, "3-mo. smoother (offset by 3 mo.)", transform=ax.transAxes,
            ha="center", va="center", fontsize=27, fontweight="semibold")

    ax.add_patch(Rectangle((0.0077, 0.0127), 0.2286, 0.0547, transform=ax.transAxes,
                           fill=False, edgecolor="black", linewidth=1.6, zorder=4))
    ax.text(0.024, 0.034, "NOAA-ESRL-GMD", transform=ax.transAxes, ha="left",
            va="center", fontsize=23, fontweight="semibold", zorder=5)

    fig.savefig("out.png", dpi=100, facecolor="white")
    plt.close(fig)


if __name__ == "__main__":
    main()
